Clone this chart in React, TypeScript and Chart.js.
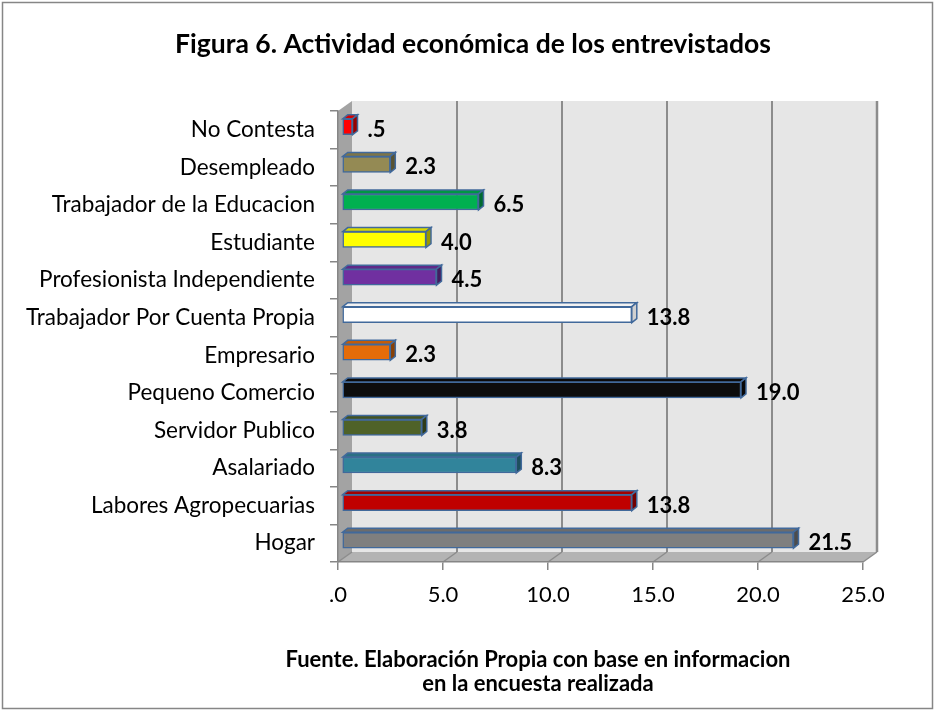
import React, { useEffect, useRef } from "react";
import { Chart, registerables } from "chart.js";

Chart.register(...registerables);

const categories = [
  "No Contesta",
  "Desempleado",
  "Trabajador de la Educacion",
  "Estudiante",
  "Profesionista Independiente",
  "Trabajador Por Cuenta Propia",
  "Empresario",
  "Pequeno Comercio",
  "Servidor Publico",
  "Asalariado",
  "Labores Agropecuarias",
  "Hogar",
];
const values = [0.5, 2.3, 6.5, 4.0, 4.5, 13.8, 2.3, 19.0, 3.8, 8.3, 13.8, 21.5];
const barColors = [
  "#ff0000",
  "#948a54",
  "#00b050",
  "#ffff00",
  "#7030a0",
  "#ffffff",
  "#e46c0a",
  "#0d0d0d",
  "#4f6228",
  "#31849b",
  "#c00000",
  "#7f7f7f",
];
const xTicks = [0, 5, 10, 15, 20, 25];
const titleText = "Figura 6. Actividad económica de los entrevistados";
const footerLines = [
  "Fuente. Elaboración Propia con base en informacion",
  "en la encuesta realizada",
];

const FONT = "Lato, 'Open Sans', sans-serif";
const DX = 14;
const DY = 10;
const BDX = 5;
const BDY = 4;
const SHIFT_X = 4;
const SHIFT_Y = -3;
const BAR_BORDER = "#41699b";

function fmt(v: number): string {
  return Number(v).toFixed(1).replace(/^0(?=\.)/, "");
}

function shade(hex: string, f: number): string {
  const n = parseInt(hex.slice(1), 16);
  let r = (n >> 16) & 255;
  let g = (n >> 8) & 255;
  let b = n & 255;
  if (f < 0) {
    r = Math.round(r * (1 + f));
    g = Math.round(g * (1 + f));
    b = Math.round(b * (1 + f));
  } else {
    r = Math.round(r + (255 - r) * f);
    g = Math.round(g + (255 - g) * f);
    b = Math.round(b + (255 - b) * f);
  }
  return `rgb(${r},${g},${b})`;
}

function poly(ctx: CanvasRenderingContext2D, pts: number[][], fill?: string, stroke?: string, lw = 1) {
  ctx.beginPath();
  ctx.moveTo(pts[0][0], pts[0][1]);
  for (let i = 1; i < pts.length; i++) ctx.lineTo(pts[i][0], pts[i][1]);
  ctx.closePath();
  if (fill) {
    ctx.fillStyle = fill;
    ctx.fill();
  }
  if (stroke) {
    ctx.strokeStyle = stroke;
    ctx.lineWidth = lw;
    ctx.stroke();
  }
}

const threeD = {
  id: "threeD",
  beforeDraw(chart: any) {
    const { ctx, chartArea: a, scales } = chart;
    const xs = scales.x;
    const L = a.left, R = a.right, T = a.top, B = a.bottom;
    ctx.save();
    ctx.fillStyle = "#ffffff";
    ctx.fillRect(0, 0, chart.width, chart.height);
    ctx.strokeStyle = "#868686";
    ctx.lineWidth = 1.5;
    ctx.strokeRect(2.5, 2.5, chart.width - 5, chart.height - 5);

    // back wall
    ctx.fillStyle = "#e6e6e6";
    ctx.fillRect(L + DX, T - DY, R - L, B - T);
    // side wall
    poly(ctx, [[L, T], [L + DX, T - DY], [L + DX, B - DY], [L, B]], "#a3a3a3");
    // floor
    poly(ctx, [[L, B], [L + DX, B - DY], [R + DX, B - DY], [R, B]], "#b3b3b3");

    for (const v of xTicks) {
      const px = xs.getPixelForValue(v);
      ctx.strokeStyle = "#8c8c8c";
      if (v > 0) {
        ctx.lineWidth = v === xTicks[xTicks.length - 1] ? 2.5 : 2;
        ctx.beginPath();
        ctx.moveTo(px + DX, T - DY);
        ctx.lineTo(px + DX, B - DY);
        ctx.stroke();
      }
      ctx.lineWidth = 1.5;
      ctx.beginPath();
      ctx.moveTo(px, B);
      ctx.lineTo(px + DX, B - DY);
      ctx.stroke();
    }
    ctx.restore();

    // title and footer
    ctx.save();
    ctx.fillStyle = "#000";
    ctx.textAlign = "center";
    ctx.textBaseline = "middle";
    ctx.font = `bold 26.5px ${FONT}`;
    ctx.fillText(titleText, 473, 44);
    ctx.font = `bold 22px ${FONT}`;
    ctx.fillText(footerLines[0], 538, 660);
    ctx.fillText(footerLines[1], 538, 684);
    ctx.restore();
  },
  beforeDatasetsDraw(chart: any) {
    chart.ctx.save();
    chart.ctx.translate(SHIFT_X, SHIFT_Y);
  },
  afterDatasetsDraw(chart: any) {
    const ctx = chart.ctx;
    const meta = chart.getDatasetMeta(0);
    meta.data.forEach((el: any, i: number) => {
      const p = el.getProps(["x", "y", "base", "height"], true);
      const left = Math.min(p.base, p.x);
      const right = Math.max(p.base, p.x);
      const top = p.y - p.height / 2;
      const bottom = p.y + p.height / 2;
      const c = barColors[i];
      poly(ctx, [[left, top], [left + BDX, top - BDY], [right + BDX, top - BDY], [right, top]],
        c === "#ffffff" ? "#f2f2f2" : shade(c, -0.15), BAR_BORDER, 1.5);
      poly(ctx, [[right, top], [right + BDX, top - BDY], [right + BDX, bottom - BDY], [right, bottom]],
        c === "#ffffff" ? "#d0d0d0" : shade(c, -0.4), BAR_BORDER, 1.5);
    });
    ctx.restore();

    ctx.save();
    ctx.fillStyle = "#000";
    ctx.font = `bold 22px ${FONT}`;
    ctx.textAlign = "left";
    ctx.textBaseline = "middle";
    meta.data.forEach((el: any, i: number) => {
      const p = el.getProps(["x", "y"], true);
      ctx.fillText(fmt(values[i]), p.x + SHIFT_X + BDX + 10, p.y);
    });
    ctx.restore();
  },
};

export default function App() {
  const ref = useRef<HTMLCanvasElement | null>(null);
  useEffect(() => {
    if (!ref.current) return;
    const chart = new Chart(ref.current, {
      type: "bar",
      data: {
        labels: categories,
        datasets: [
          {
            data: values,
            backgroundColor: barColors,
            borderColor: BAR_BORDER,
            borderWidth: 1.5,
            borderSkipped: false,
            barThickness: 16,
          },
        ],
      },
      options: {
        responsive: false,
        animation: false,
        devicePixelRatio: 1,
        indexAxis: "y",
        layout: { padding: { top: 111, right: 72, left: 0, bottom: 0 } },
        plugins: {
          legend: { display: false },
          title: { display: false },
          tooltip: { enabled: false },
        },
        scales: {
          x: {
            min: 0,
            max: 25,
            ticks: {
              stepSize: 5,
              callback: (v: any) => fmt(Number(v)),
              font: { family: FONT, size: 22 },
              color: "#000",
              padding: 12,
              maxRotation: 0,
              autoSkip: false,
            },
            grid: { drawOnChartArea: false, tickLength: 8, color: "#868686", lineWidth: 1.5 },
            border: { display: true, color: "#868686", width: 1.5 },
            afterFit: (s: any) => {
              s.height = 711 - 562;
            },
          },
          y: {
            ticks: {
              font: { family: FONT, size: 22.5 },
              color: "#000",
              padding: 15,
              autoSkip: false,
            },
            grid: { drawOnChartArea: false, tickLength: 8, color: "#868686", lineWidth: 1.5, offset: true },
            border: { display: true, color: "#868686", width: 1.5 },
            afterFit: (s: any) => {
              s.width = 338;
            },
          },
        },
      },
      plugins: [threeD],
    } as any);
    return () => chart.destroy();
  }, []);
  return (
    <div style={{ position: "absolute", left: 0, top: 0, width: 935, height: 711 }}>
      <canvas ref={ref} width={935} height={711} style={{ display: "block" }} />
    </div>
  );
}
